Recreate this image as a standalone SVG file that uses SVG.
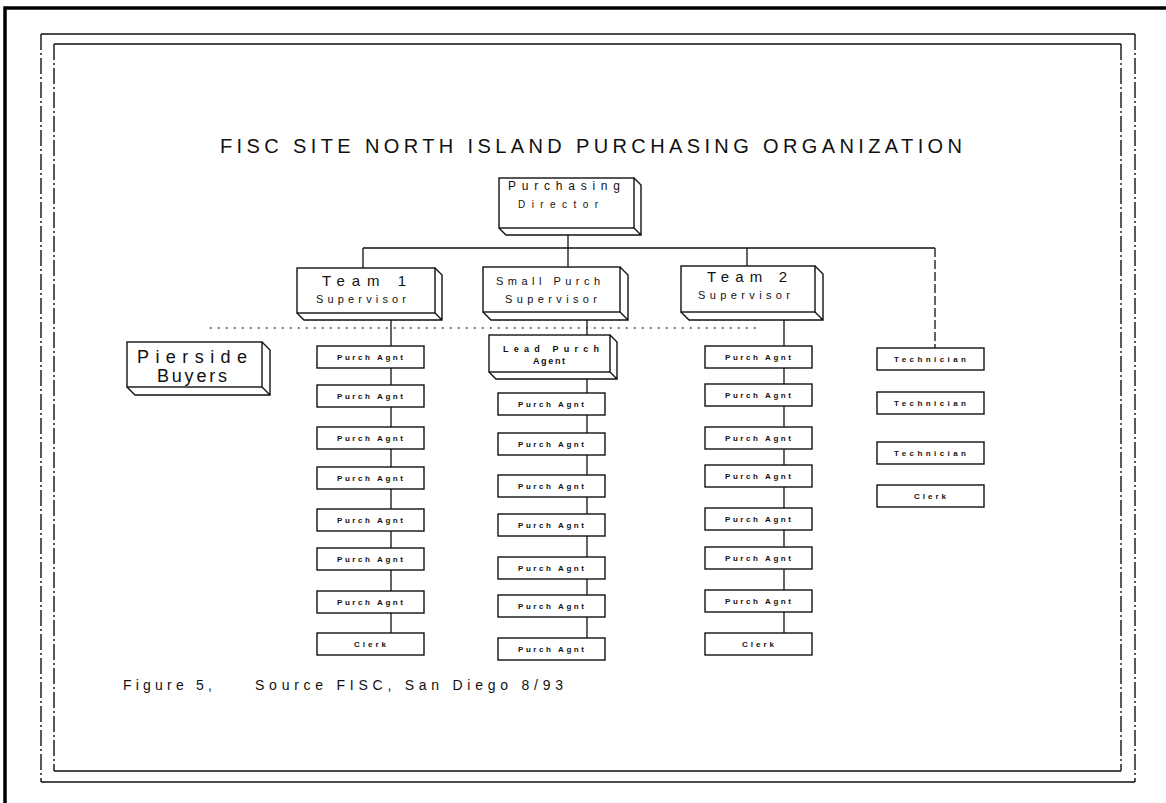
<svg xmlns="http://www.w3.org/2000/svg" width="1166" height="803" viewBox="0 0 1166 803">
<style>
  .bg{fill:#fff}
  .frame{fill:none;stroke:#111;stroke-width:1.4}
  .vframe{fill:none;stroke:#111;stroke-width:1.4;stroke-dasharray:16 3 2 3}
  .outer{fill:none;stroke:#000;stroke-width:3.5}
  .box{fill:#fff;stroke:#111;stroke-width:1.4}
  .ext{fill:none;stroke:#111;stroke-width:1.4;stroke-linejoin:miter}
  .ln{stroke:#111;stroke-width:1.3;fill:none}
  .dash{stroke:#111;stroke-width:1.3;fill:none;stroke-dasharray:9 3}
  .dot{stroke:#222;stroke-width:1.4;stroke-dasharray:1.5 6.5;fill:none}
  text{font-family:"Liberation Sans",Arial,sans-serif;fill:#111;text-anchor:middle}
  .title{font-size:20px;text-anchor:start}
  .big{font-size:15px}
  .mid{font-size:11px}
  .huge{font-size:18px}
  .sm{font-size:8px;font-weight:bold}
  .foot{font-size:14px;text-anchor:start}
</style>
<rect class="bg" x="0" y="0" width="1166" height="803"/>
<g id="borders">
  <path class="outer" d="M5,803 L5,8 L1166,8"/>
  <path class="frame" d="M41,34 L1135,34 M41,782 L1135,782 M54,44 L1121,44 M54,771 L1121,771"/>
  <path class="vframe" d="M41,34 L41,782 M1135,34 L1135,782 M54,44 L54,771 M1121,44 L1121,771"/>
</g>
<text id="title" class="title" x="220" y="153" textLength="742" lengthAdjust="spacing">FISC SITE NORTH ISLAND PURCHASING ORGANIZATION</text>
<g id="connectors">
  <path class="ln" d="M363,248 L935,248 M363,248 L363,268 M568,235 L568,267 M747,248 L747,266"/>
  <path class="dash" d="M935,248 L935,348"/>
  <path class="ln" d="M391,320 L391,346 M391,368 L391,385 M391,407 L391,427 M391,449 L391,467 M391,489 L391,509 M391,531 L391,548 M391,570 L391,591 M391,613 L391,633"/>
  <path class="ln" d="M587,320 L587,335 M587,379 L587,393 M587,415 L587,433 M587,455 L587,475 M587,497 L587,514 M587,536 L587,557 M587,579 L587,595 M587,617 L587,638"/>
  <path class="ln" d="M784,320 L784,346 M784,368 L784,384 M784,406 L784,427 M784,449 L784,465 M784,487 L784,508 M784,530 L784,547 M784,569 L784,590 M784,612 L784,633"/>
  <path class="dot" d="M210,328 L757,328"/>
</g>
<g id="director">
  <rect class="box" x="499" y="178" width="135" height="50"/>
  <path class="ext" d="M634,178 L641,185 L641,235 L506,235 L499,228 M634,228 L641,235"/>
  <text class="mid" x="564" y="190" style="font-size:12px" textLength="112" lengthAdjust="spacing">Purchasing</text>
  <text class="mid" x="558" y="208" style="font-size:10px" textLength="80" lengthAdjust="spacing">Director</text>
</g>
<g id="team1">
  <rect class="box" x="297" y="268" width="138" height="45"/>
  <path class="ext" d="M435,268 L442,275 L442,320 L304,320 L297,313 M435,313 L442,320"/>
  <text class="big" x="364" y="286" textLength="84" lengthAdjust="spacing">Team 1</text>
  <text class="mid" x="361" y="303" textLength="90" lengthAdjust="spacing">Supervisor</text>
</g>
<g id="smallpurch">
  <rect class="box" x="483" y="267" width="137" height="45"/>
  <path class="ext" d="M620,267 L628,275 L628,320 L491,320 L483,312 M620,312 L628,320"/>
  <text class="mid" x="548" y="285" textLength="104" lengthAdjust="spacing">Small Purch</text>
  <text class="mid" x="551" y="303" textLength="92" lengthAdjust="spacing">Supervisor</text>
</g>
<g id="team2">
  <rect class="box" x="681" y="266" width="134" height="46"/>
  <path class="ext" d="M815,266 L823,274 L823,320 L689,320 L681,312 M815,312 L823,320"/>
  <text class="big" x="747" y="282" textLength="80" lengthAdjust="spacing">Team 2</text>
  <text class="mid" x="744" y="299" textLength="92" lengthAdjust="spacing">Supervisor</text>
</g>
<g id="pierside">
  <rect class="box" x="127" y="342" width="135" height="45"/>
  <path class="ext" d="M262,342 L270,350 L270,395 L135,395 L127,387 M262,387 L270,395"/>
  <text class="huge" x="192" y="363" textLength="110" lengthAdjust="spacing">Pierside</text>
  <text class="huge" x="192" y="382" textLength="70" lengthAdjust="spacing">Buyers</text>
</g>
<g id="leadpurch">
  <rect class="box" x="489" y="335" width="121" height="37"/>
  <path class="ext" d="M610,335 L617,342 L617,379 L496,379 L489,372 M610,372 L617,379"/>
  <text class="sm" x="551" y="352" style="font-size:9px" textLength="96" lengthAdjust="spacing">Lead Purch</text>
  <text class="sm" x="549" y="364" style="font-size:9px" textLength="32" lengthAdjust="spacing">Agent</text>
</g>
<g id="team1-staff">
  <g id="t1a1"><rect class="box" x="317" y="346" width="107" height="22"/><text class="sm" x="370" y="360" textLength="66" lengthAdjust="spacing">Purch Agnt</text></g>
  <g id="t1a2"><rect class="box" x="317" y="385" width="107" height="22"/><text class="sm" x="370" y="399" textLength="66" lengthAdjust="spacing">Purch Agnt</text></g>
  <g id="t1a3"><rect class="box" x="317" y="427" width="107" height="22"/><text class="sm" x="370" y="441" textLength="66" lengthAdjust="spacing">Purch Agnt</text></g>
  <g id="t1a4"><rect class="box" x="317" y="467" width="107" height="22"/><text class="sm" x="370" y="481" textLength="66" lengthAdjust="spacing">Purch Agnt</text></g>
  <g id="t1a5"><rect class="box" x="317" y="509" width="107" height="22"/><text class="sm" x="370" y="523" textLength="66" lengthAdjust="spacing">Purch Agnt</text></g>
  <g id="t1a6"><rect class="box" x="317" y="548" width="107" height="22"/><text class="sm" x="370" y="562" textLength="66" lengthAdjust="spacing">Purch Agnt</text></g>
  <g id="t1a7"><rect class="box" x="317" y="591" width="107" height="22"/><text class="sm" x="370" y="605" textLength="66" lengthAdjust="spacing">Purch Agnt</text></g>
  <g id="t1c"><rect class="box" x="317" y="633" width="107" height="22"/><text class="sm" x="370" y="647" textLength="32" lengthAdjust="spacing">Clerk</text></g>
</g>
<g id="smallpurch-staff">
  <g id="sa1"><rect class="box" x="498" y="393" width="107" height="22"/><text class="sm" x="551" y="407" textLength="66" lengthAdjust="spacing">Purch Agnt</text></g>
  <g id="sa2"><rect class="box" x="498" y="433" width="107" height="22"/><text class="sm" x="551" y="447" textLength="66" lengthAdjust="spacing">Purch Agnt</text></g>
  <g id="sa3"><rect class="box" x="498" y="475" width="107" height="22"/><text class="sm" x="551" y="489" textLength="66" lengthAdjust="spacing">Purch Agnt</text></g>
  <g id="sa4"><rect class="box" x="498" y="514" width="107" height="22"/><text class="sm" x="551" y="528" textLength="66" lengthAdjust="spacing">Purch Agnt</text></g>
  <g id="sa5"><rect class="box" x="498" y="557" width="107" height="22"/><text class="sm" x="551" y="571" textLength="66" lengthAdjust="spacing">Purch Agnt</text></g>
  <g id="sa6"><rect class="box" x="498" y="595" width="107" height="22"/><text class="sm" x="551" y="609" textLength="66" lengthAdjust="spacing">Purch Agnt</text></g>
  <g id="sa7"><rect class="box" x="498" y="638" width="107" height="22"/><text class="sm" x="551" y="652" textLength="66" lengthAdjust="spacing">Purch Agnt</text></g>
</g>
<g id="team2-staff">
  <g id="t2a1"><rect class="box" x="705" y="346" width="107" height="22"/><text class="sm" x="758" y="360" textLength="66" lengthAdjust="spacing">Purch Agnt</text></g>
  <g id="t2a2"><rect class="box" x="705" y="384" width="107" height="22"/><text class="sm" x="758" y="398" textLength="66" lengthAdjust="spacing">Purch Agnt</text></g>
  <g id="t2a3"><rect class="box" x="705" y="427" width="107" height="22"/><text class="sm" x="758" y="441" textLength="66" lengthAdjust="spacing">Purch Agnt</text></g>
  <g id="t2a4"><rect class="box" x="705" y="465" width="107" height="22"/><text class="sm" x="758" y="479" textLength="66" lengthAdjust="spacing">Purch Agnt</text></g>
  <g id="t2a5"><rect class="box" x="705" y="508" width="107" height="22"/><text class="sm" x="758" y="522" textLength="66" lengthAdjust="spacing">Purch Agnt</text></g>
  <g id="t2a6"><rect class="box" x="705" y="547" width="107" height="22"/><text class="sm" x="758" y="561" textLength="66" lengthAdjust="spacing">Purch Agnt</text></g>
  <g id="t2a7"><rect class="box" x="705" y="590" width="107" height="22"/><text class="sm" x="758" y="604" textLength="66" lengthAdjust="spacing">Purch Agnt</text></g>
  <g id="t2c"><rect class="box" x="705" y="633" width="107" height="22"/><text class="sm" x="758" y="647" textLength="32" lengthAdjust="spacing">Clerk</text></g>
</g>
<g id="support-staff">
  <g id="tech1"><rect class="box" x="877" y="348" width="107" height="22"/><text class="sm" x="930" y="362" textLength="72" lengthAdjust="spacing">Technician</text></g>
  <g id="tech2"><rect class="box" x="877" y="392" width="107" height="22"/><text class="sm" x="930" y="406" textLength="72" lengthAdjust="spacing">Technician</text></g>
  <g id="tech3"><rect class="box" x="877" y="442" width="107" height="22"/><text class="sm" x="930" y="456" textLength="72" lengthAdjust="spacing">Technician</text></g>
  <g id="clerk"><rect class="box" x="877" y="485" width="107" height="22"/><text class="sm" x="930" y="499" textLength="32" lengthAdjust="spacing">Clerk</text></g>
</g>
<g id="footer">
  <text class="foot" x="123" y="690" textLength="89" lengthAdjust="spacing">Figure 5,</text>
  <text class="foot" x="255" y="690" textLength="308" lengthAdjust="spacing">Source  FISC, San Diego 8/93</text>
</g>
</svg>
